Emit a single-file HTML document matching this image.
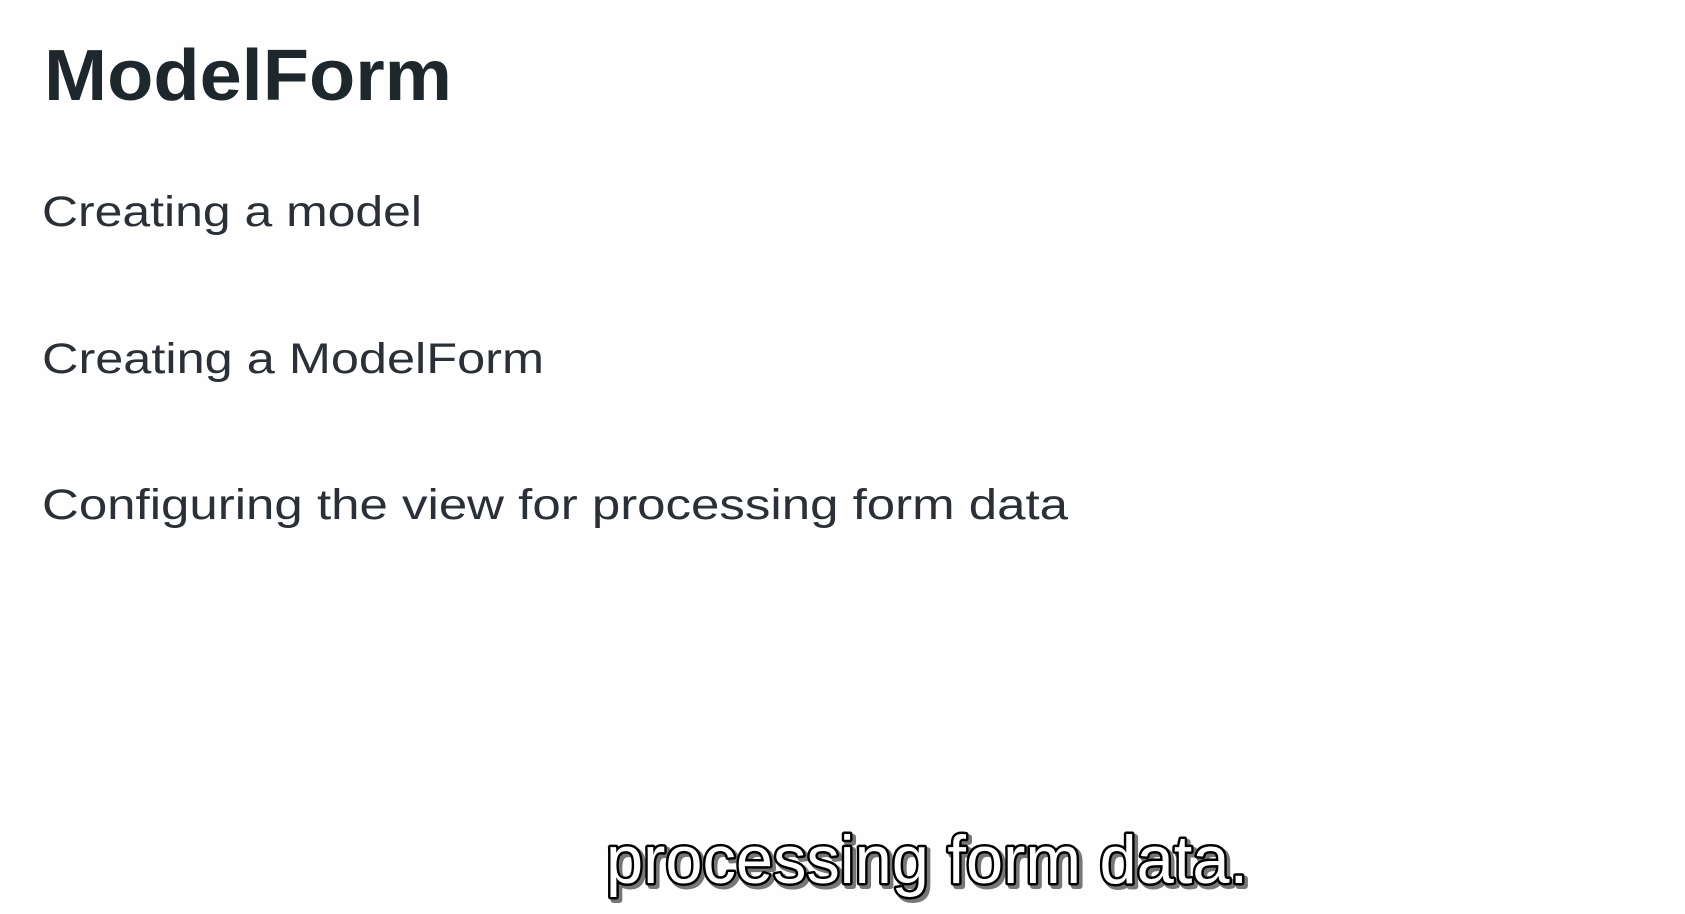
<!DOCTYPE html>
<html><head><meta charset="utf-8"><style>
html,body{margin:0;padding:0;background:#fff;}
svg{display:block;}
</style></head><body>
<svg width="1685" height="914" viewBox="0 0 1685 914" xmlns="http://www.w3.org/2000/svg">
<rect width="1685" height="914" fill="#fefefe"/>
<text x="44" y="100" font-family="Liberation Sans, sans-serif" font-weight="bold" font-size="72" fill="#1e272c" textLength="408" lengthAdjust="spacingAndGlyphs">ModelForm</text>
<g font-family="Liberation Sans, sans-serif" font-size="43" fill="#2a3036">
<text x="42" y="226" textLength="380" lengthAdjust="spacingAndGlyphs">Creating a model</text>
<text x="42" y="373" textLength="502" lengthAdjust="spacingAndGlyphs">Creating a ModelForm</text>
<text x="42" y="519" textLength="1026" lengthAdjust="spacingAndGlyphs">Configuring the view for processing form data</text>
</g>
<g font-family="Liberation Sans, sans-serif" font-size="68">
<text x="609" y="886" fill="#777" stroke="#777" stroke-width="6" stroke-linejoin="round" textLength="642" lengthAdjust="spacingAndGlyphs">processing form data.</text>
<text x="606" y="883" fill="#fff" stroke="#000" stroke-width="5" stroke-linejoin="round" textLength="642" lengthAdjust="spacingAndGlyphs">processing form data.</text>
<text x="606" y="883" fill="#fff" textLength="642" lengthAdjust="spacingAndGlyphs">processing form data.</text>
</g>
</svg>
</body></html>
